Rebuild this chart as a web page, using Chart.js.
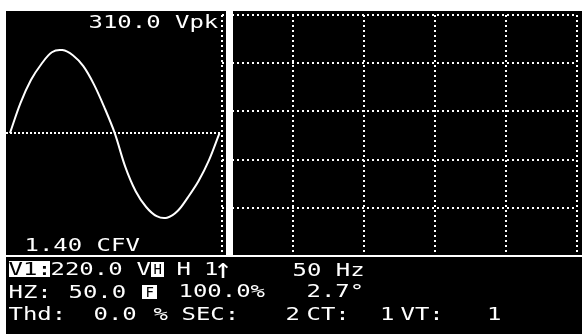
<!DOCTYPE html>
<html><head><meta charset="utf-8">
<script src="https://cdn.jsdelivr.net/npm/chart.js@4"></script>
<style>
html,body{margin:0;padding:0;background:#fff;width:582px;height:334px;overflow:hidden}
#wrap{position:relative;width:582px;height:334px}
#grid{position:absolute;left:0;top:0}
#wave{position:absolute;left:6px;top:11px}
</style></head><body>
<div id="wrap">
<canvas id="grid" width="582" height="334"></canvas>
<canvas id="wave" width="216" height="245"></canvas>
</div>
<script>
// ---- data ----
const waveTimesMs = [0,1,2,3,4,5,6,7,8,9,10,11,12,13,14,15,16,17,18,19,20];
const waveVolts   = [0,112,198,258,302,310,291,250,183,97,0,-125,-217,-276,-310,-316,-291,-239,-179,-101,0];
const gridColTicks = [0,1,2,3,4,5];
const gridRowTicks = [0,1,2,3,4,5];
const zeroLineTicks = [0];
const peakLabel = '310.0 Vpk';
const crestLabel = '1.40 CFV';
const row1Texts = ['V1:','220.0','V','H','H','1','\u2191','50 Hz'];
const row2Texts = ['HZ:','50.0','F','100.0%','2.7\u00b0'];
const row3Texts = ['Thd:','0.0','%','SEC:','2','CT:','1','VT:','1'];

// ---- layout / style ----
// [x, baseline, mode]  mode: 0 normal, 1 inverse (scaled), 2 inverse small box letter, 3 arrow
function lcdText(ctx, text, x, base, color, size, sx){
  ctx.save();
  ctx.translate(x, base);
  ctx.scale(sx, 1);
  ctx.font = size + 'px "DejaVu Sans Mono"';
  ctx.fillStyle = color;
  ctx.textBaseline = 'alphabetic';
  ctx.textAlign = 'left';
  ctx.fillText(text, 0, 0);
  ctx.restore();
}
function drawTok(ctx, t, p){
  const [x, b, m] = p;
  if (m === 0) lcdText(ctx, t, x, b, '#fff', 18, 1.33);
  else if (m === 1) lcdText(ctx, t, x, b, '#000', 18, 1.33);
  else if (m === 2) lcdText(ctx, t, x, b, '#000', 14, 1.0);
  else if (m === 3) lcdText(ctx, t, x, b, '#fff', 28, 1.1);
}
const row1Pos = [[8.5,275,1],[50.5,275,0],[136.5,275,0],[153.5,274,2],[176.5,275,0],[204,275,0],[214,278,3],[292.5,276,0]];
const row2Pos = [[8.5,298,0],[68.5,298,0],[145.5,297,2],[178.5,297,0],[306.5,297,0]];
const row3Pos = [[8.5,320,0],[93.5,320,0],[153.5,320,0],[181.5,320,0],[285.5,320,0],[306.5,320,0],[380,320,0],[400.5,320,0],[487,320,0]];

const screenPlugin = {
  id:'screen',
  beforeDraw(chart){
    const ctx = chart.ctx;
    ctx.save();
    ctx.fillStyle = '#fff';
    ctx.fillRect(0,0,chart.width,chart.height);
    ctx.fillStyle = '#000';
    ctx.fillRect(6,11,576,323);
    ctx.restore();
  },
  afterDraw(chart){
    const ctx = chart.ctx;
    ctx.save();
    ctx.fillStyle = '#fff';
    ctx.fillRect(226,11,7,245);   // separator bar
    ctx.fillRect(6,255,576,2);    // separator line
    ctx.fillRect(9,261,41,16);    // inverse boxes
    ctx.fillRect(151,262,13,15);
    ctx.fillRect(142,285,15,14);
    ctx.restore();
    lcdText(ctx, peakLabel, 88.5, 28, '#fff', 18, 1.33);
    lcdText(ctx, crestLabel, 24.5, 251, '#fff', 18, 1.33);
    row1Texts.forEach((t,i)=>drawTok(ctx,t,row1Pos[i]));
    row2Texts.forEach((t,i)=>drawTok(ctx,t,row2Pos[i]));
    row3Texts.forEach((t,i)=>drawTok(ctx,t,row3Pos[i]));
  }
};

const dotted = {display:false, dash:[2,3]};
new Chart(document.getElementById('grid'), {
  type:'scatter',
  data:{datasets:[{data:[], pointRadius:0}]},
  options:{
    responsive:false, animation:false, devicePixelRatio:1,
    layout:{padding:{left:222, top:15, right:5, bottom:78}},
    plugins:{legend:{display:false}, tooltip:{enabled:false}},
    scales:{
      x:{type:'linear', min:0, max:5,
         afterBuildTicks:s=>{s.ticks = gridColTicks.map(v=>({value:v}));},
         ticks:{display:false}, grid:{color:'#fff', lineWidth:2, drawTicks:false}, border:dotted},
      y:{type:'linear', min:0, max:5,
         afterBuildTicks:s=>{s.ticks = gridRowTicks.map(v=>({value:v}));},
         ticks:{display:false}, grid:{color:'#fff', lineWidth:2, drawTicks:false}, border:dotted}
    }
  },
  plugins:[screenPlugin]
});

new Chart(document.getElementById('wave'), {
  type:'line',
  data:{datasets:[{
    data: waveTimesMs.map((t,i)=>({x:t, y:waveVolts[i]})),
    borderColor:'#fff', borderWidth:2, pointRadius:0, tension:0.35, fill:false
  }]},
  options:{
    responsive:false, animation:false, devicePixelRatio:1,
    layout:{padding:0},
    plugins:{legend:{display:false}, tooltip:{enabled:false}},
    scales:{
      x:{type:'linear', display:false, min:-0.38, max:20.24},
      y:{type:'linear', min:-459, max:456,
         afterBuildTicks:s=>{s.ticks = zeroLineTicks.map(v=>({value:v}));},
         ticks:{display:false}, grid:{color:'#fff', lineWidth:2, drawTicks:false},
         border:{display:false, dash:[2,2]}}
    }
  }
});
</script>
</body></html>
